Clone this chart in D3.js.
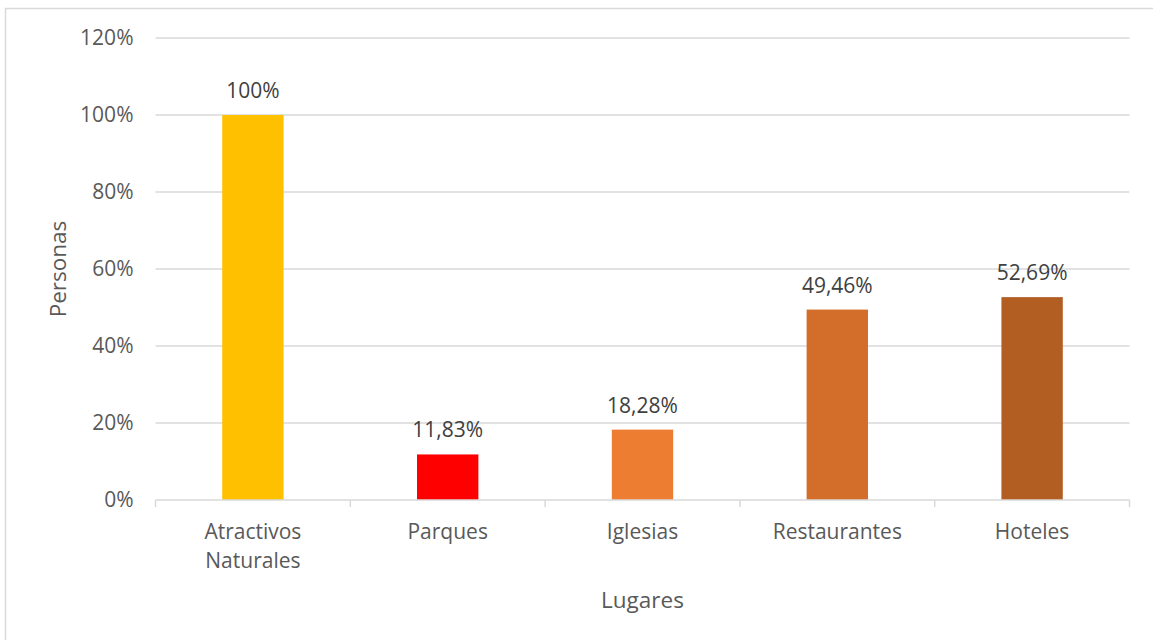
<!DOCTYPE html>
<html>
<head>
<meta charset="utf-8">
<script src="https://cdn.jsdelivr.net/npm/d3@7"></script>
<style>
  html, body { margin: 0; padding: 0; background: #fff; }
  svg { display: block; font-family: "Open Sans", "Noto Sans", sans-serif; }
</style>
</head>
<body>
<svg id="chart" width="1153" height="640"></svg>
<script>
// Share of people per type of place
const categories = ["Atractivos Naturales", "Parques", "Iglesias", "Restaurantes", "Hoteles"];
const categoryLines = [["Atractivos", "Naturales"], ["Parques"], ["Iglesias"], ["Restaurantes"], ["Hoteles"]];
const values = [100, 11.83, 18.28, 49.46, 52.69];
const valueLabels = ["100%", "11,83%", "18,28%", "49,46%", "52,69%"];
const barColors = ["#FFC000", "#FF0000", "#ED7D31", "#D36E2A", "#B25D22"];
const yTicks = [0, 20, 40, 60, 80, 100, 120];
const yTitle = "Personas";
const xTitle = "Lugares";

const svg = d3.select("#chart");
const W = 1153, H = 640;
const plot = { left: 155.5, right: 1129.5, top: 38, bottom: 500 };
const labelSize = 21, titleSize = 22.5;

// outer frame
svg.append("rect")
  .attr("x", 5.5).attr("y", 8.5)
  .attr("width", W + 10).attr("height", H + 10)
  .attr("fill", "#fff").attr("stroke", "#d9d9d9").attr("stroke-width", 1.5);

const x = d3.scaleBand().domain(categories).range([plot.left, plot.right]).paddingInner(0.685).paddingOuter(0.3425);
const y = d3.scaleLinear().domain([0, 120]).range([plot.bottom, plot.top]);

// horizontal gridlines
svg.append("g")
  .selectAll("line").data(yTicks.filter(t => t > 0)).join("line")
  .attr("x1", plot.left).attr("x2", plot.right)
  .attr("y1", d => y(d)).attr("y2", d => y(d))
  .attr("stroke", "#d9d9d9").attr("stroke-width", 1.5);

// y tick labels
const yAxis = d3.axisLeft(y).tickValues(yTicks).tickFormat(d => d + "%").tickSize(0).tickPadding(22);
const gy = svg.append("g").attr("transform", `translate(${plot.left},0)`).call(yAxis);
gy.select(".domain").remove();
gy.selectAll("text").attr("font-size", labelSize).attr("fill", "#595959").attr("font-family", "Open Sans");

// bars
svg.append("g")
  .selectAll("rect").data(categories).join("rect")
  .attr("x", d => x(d))
  .attr("width", x.bandwidth())
  .attr("y", (d, i) => y(values[i]))
  .attr("height", (d, i) => y(0) - y(values[i]))
  .attr("fill", (d, i) => barColors[i]);

// value labels
svg.append("g")
  .selectAll("text").data(categories).join("text")
  .attr("x", d => x(d) + x.bandwidth() / 2)
  .attr("y", (d, i) => y(values[i]) - 17)
  .attr("text-anchor", "middle")
  .attr("font-size", labelSize)
  .attr("fill", "#404040")
  .text((d, i) => valueLabels[i]);

// x axis line and category dividers
const bounds = d3.range(categories.length + 1).map(i => plot.left + i * (plot.right - plot.left) / categories.length);
svg.append("line")
  .attr("x1", plot.left).attr("x2", plot.right)
  .attr("y1", plot.bottom).attr("y2", plot.bottom)
  .attr("stroke", "#d9d9d9").attr("stroke-width", 1.5);
svg.append("g").selectAll("line").data(bounds).join("line")
  .attr("x1", d => d).attr("x2", d => d)
  .attr("y1", plot.bottom).attr("y2", plot.bottom + 7)
  .attr("stroke", "#d9d9d9").attr("stroke-width", 1.5);

// category labels
const cl = svg.append("g").selectAll("text").data(categories).join("text")
  .attr("x", d => x(d) + x.bandwidth() / 2)
  .attr("y", 539)
  .attr("text-anchor", "middle")
  .attr("font-size", labelSize)
  .attr("fill", "#595959");
cl.each(function(d, i) {
  const t = d3.select(this);
  categoryLines[i].forEach((line, k) => {
    t.append("tspan").attr("x", x(d) + x.bandwidth() / 2).attr("dy", k === 0 ? 0 : 29).text(line);
  });
});

// axis titles
svg.append("text")
  .attr("x", (plot.left + plot.right) / 2).attr("y", 608)
  .attr("text-anchor", "middle").attr("font-size", titleSize).attr("fill", "#595959")
  .text(xTitle);
svg.append("text")
  .attr("transform", `translate(66,269) rotate(-90)`)
  .attr("text-anchor", "middle").attr("font-size", titleSize).attr("fill", "#595959")
  .text(yTitle);
</script>
</body>
</html>
